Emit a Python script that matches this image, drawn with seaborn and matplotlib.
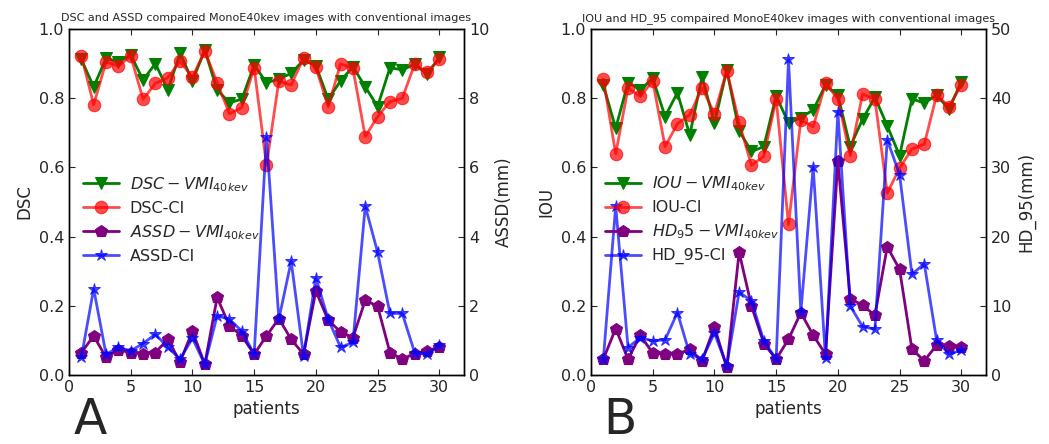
import numpy as np
import matplotlib
matplotlib.use("Agg")
import matplotlib.pyplot as plt
import seaborn as sns

# patients 1..30
patients = list(range(1, 31))

# panel A -------------------------------------------------------------------
dsc_vmi = [0.912, 0.833, 0.915, 0.905, 0.925, 0.853, 0.900, 0.824, 0.930, 0.850,
           0.939, 0.824, 0.787, 0.797, 0.896, 0.845, 0.855, 0.872, 0.910, 0.894,
           0.797, 0.850, 0.891, 0.833, 0.776, 0.888, 0.882, 0.898, 0.869, 0.918]
dsc_ci = [0.923, 0.781, 0.905, 0.893, 0.922, 0.797, 0.843, 0.859, 0.907, 0.860,
          0.937, 0.845, 0.755, 0.773, 0.888, 0.606, 0.850, 0.838, 0.917, 0.889,
          0.776, 0.899, 0.886, 0.689, 0.747, 0.790, 0.800, 0.898, 0.875, 0.912]
assd_vmi = [0.65, 1.13, 0.51, 0.73, 0.65, 0.60, 0.65, 1.03, 0.38, 1.27,
            0.31, 2.24, 1.42, 1.13, 0.60, 1.13, 1.63, 1.03, 0.60, 2.43,
            1.58, 1.25, 1.08, 2.16, 1.99, 0.65, 0.46, 0.62, 0.70, 0.80]
assd_ci = [0.51, 2.49, 0.60, 0.80, 0.70, 0.91, 1.18, 0.80, 0.46, 1.06,
           0.31, 1.71, 1.61, 1.27, 0.60, 6.88, 1.61, 3.29, 0.55, 2.81,
           1.61, 0.80, 0.94, 4.88, 3.55, 1.78, 1.78, 0.65, 0.60, 0.86]

# panel B -------------------------------------------------------------------
iou_vmi = [0.838, 0.713, 0.845, 0.824, 0.858, 0.747, 0.816, 0.694, 0.862, 0.728,
           0.881, 0.706, 0.646, 0.660, 0.807, 0.728, 0.744, 0.766, 0.838, 0.809,
           0.660, 0.739, 0.803, 0.720, 0.634, 0.798, 0.786, 0.809, 0.768, 0.848]
iou_ci = [0.855, 0.639, 0.829, 0.805, 0.850, 0.660, 0.726, 0.752, 0.830, 0.755,
          0.880, 0.730, 0.606, 0.632, 0.798, 0.435, 0.737, 0.718, 0.843, 0.798,
          0.634, 0.812, 0.797, 0.526, 0.598, 0.653, 0.667, 0.809, 0.776, 0.838]
hd95_vmi = [2.29, 6.71, 2.29, 5.75, 3.16, 3.01, 3.01, 3.73, 2.05, 6.95,
            1.09, 17.75, 9.97, 4.55, 2.29, 5.17, 9.01, 5.75, 3.01, 30.9,
            11.04, 10.07, 8.63, 18.53, 15.26, 3.73, 2.05, 4.31, 4.12, 4.06]
hd95_ci = [2.29, 24.4, 3.97, 5.41, 4.93, 5.08, 9.01, 3.01, 2.29, 6.04,
           1.33, 11.99, 10.70, 4.93, 2.29, 45.6, 9.11, 30.06, 2.39, 38.07,
           9.97, 7.00, 6.61, 33.99, 28.95, 14.54, 16.08, 5.03, 3.01, 3.59]

sns.set_style("ticks", {"xtick.direction": "in", "ytick.direction": "in"})
plt.rcParams['font.family'] = ['DejaVu Sans']
plt.rcParams['mathtext.fontset'] = 'dejavusans'

fig = plt.figure(figsize=(10.49, 4.44), dpi=100)


def draw_panel(rect, left_a, left_b, right_a, right_b, names, title, ylabels, rmax):
    ax = fig.add_axes(rect)
    ax2 = ax.twinx()
    sns.lineplot(x=patients, y=left_a, ax=ax, color='green', marker='v', markersize=9,
                 markeredgecolor='green', linewidth=2, label=names[0], legend=False)
    sns.lineplot(x=patients, y=left_b, ax=ax, color='red', marker='o', markersize=9,
                 markeredgecolor='red', linewidth=2, alpha=0.7, label=names[1], legend=False)
    sns.lineplot(x=patients, y=right_a, ax=ax2, color='purple', marker='p', markersize=9,
                 markeredgecolor='purple', linewidth=2, label=names[2], legend=False)
    sns.lineplot(x=patients, y=right_b, ax=ax2, color='blue', marker='*', markersize=9,
                 markeredgecolor='blue', linewidth=2, alpha=0.7, label=names[3], legend=False)

    ax.set_xlim(0, 32)
    ax.set_ylim(0, 1.0)
    ax2.set_ylim(0, rmax)
    ax.set_xticks([0, 5, 10, 15, 20, 25, 30])
    ax.set_yticks(np.arange(0, 1.01, 0.2))
    ax2.set_yticks(np.linspace(0, rmax, 6))
    ax.tick_params(direction='in', top=True, right=False, length=4, labelsize=11.5)
    ax2.tick_params(direction='in', length=4, labelsize=11.5)
    for a in (ax, ax2):
        for s in a.spines.values():
            s.set_linewidth(1)
            s.set_color('black')

    ax.set_xlabel('patients', fontsize=12)
    ax.set_ylabel(ylabels[0], fontsize=12)
    ax2.set_ylabel(ylabels[1], fontsize=12)
    ax.set_title(title, fontsize=8)

    h1, l1 = ax.get_legend_handles_labels()
    h2, l2 = ax2.get_legend_handles_labels()
    ax2.legend(h1 + h2, l1 + l2, loc='center left', bbox_to_anchor=(0, 0.45),
               frameon=False, fontsize=11.5, numpoints=1, handlelength=2.2,
               handletextpad=0.7, labelspacing=0.45)
    return ax, ax2


draw_panel([69 / 1049, 69 / 444, 395 / 1049, 346 / 444], dsc_vmi, dsc_ci, assd_vmi, assd_ci,
           [r'$DSC-VMI_{40kev}$', 'DSC-CI', r'$ASSD-VMI_{40kev}$', 'ASSD-CI'],
           'DSC and ASSD compaired MonoE40kev images with conventional images',
           ['DSC', 'ASSD(mm)'], 10)

draw_panel([591 / 1049, 69 / 444, 395 / 1049, 346 / 444], iou_vmi, iou_ci, hd95_vmi, hd95_ci,
           [r'$IOU-VMI_{40kev}$', 'IOU-CI', r'$HD_95-VMI_{40kev}$', 'HD_95-CI'],
           'IOU and HD_95 compaired MonoE40kev images with conventional images',
           ['IOU', 'HD_95(mm)'], 50)

# panel letters at the bottom edge
fig.text(74 / 1049, 0.0, 'A', fontsize=35, va='bottom')
fig.text(603 / 1049, 0.0, 'B', fontsize=35, va='bottom')

fig.savefig('out.png', dpi=100)
